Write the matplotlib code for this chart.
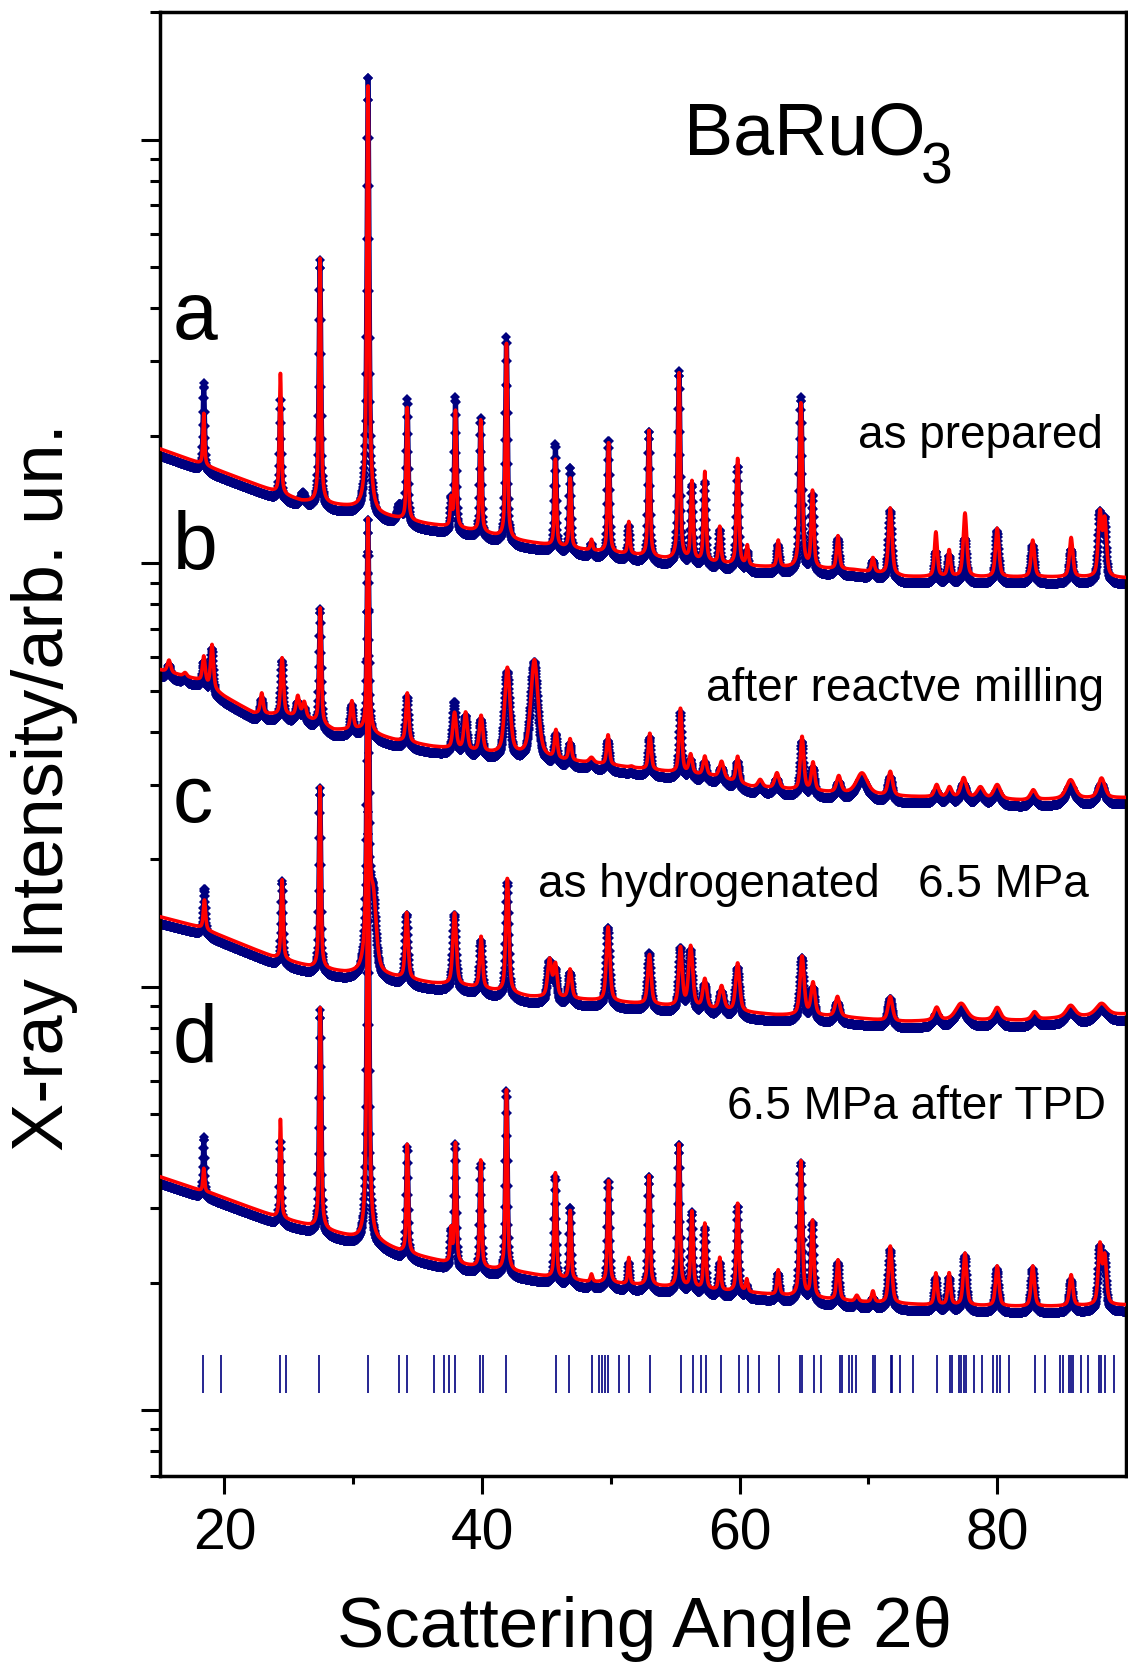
import numpy as np
import matplotlib
matplotlib.use("Agg")
import matplotlib.pyplot as plt
from matplotlib.ticker import FixedLocator, LogLocator, NullFormatter

plt.rcParams['font.family'] = ['Liberation Sans', 'DejaVu Sans']

# ---- data (log10 of intensity, arb. units) ----
nan = np.nan

# a: as prepared
a_bg_x = [15, 18, 24, 26, 30.5, 32, 35.7, 39.6, 42.4, 44.7, 48.6, 51.7, 54.2, 61.2, 68.9, 72.8, 77.9, 85.6, 90]
a_bg = [4.27, 4.237, 4.168, 4.147, 4.13, 4.114, 4.093, 4.076, 4.055, 4.045, 4.029, 4.02, 4.01, 3.992, 3.984, 3.968, 3.967, 3.967, 3.965]
a_pos = [18.4, 20.2, 24.35, 26.1, 27.42, 31.15, 33.6, 34.2, 37.6, 37.94, 39.9, 41.9, 45.7, 46.85, 48.5, 49.83, 51.4,
         52.97, 55.3, 56.3, 57.3, 58.46, 59.85, 60.6, 63.0, 64.76, 65.66, 67.64, 70.35, 71.7, 75.24, 76.27, 77.5,
         80.0, 82.76, 85.74, 87.98, 88.35]
a_calc = [4.354, nan, 4.451, nan, 4.72, 5.134, nan, 4.367, 4.15, 4.36, 4.338, 4.519, 4.245, 4.202, 4.055, 4.286, 4.097,
          4.315, 4.449, 4.192, 4.215, 4.085, 4.248, 4.04, 4.053, 4.378, 4.169, 4.064, 4.012, 4.13, 4.073, 4.03, 4.118,
          4.082, 4.054, 4.06, 4.118, 4.10]
a_obs = [4.435, 4.21, 4.397, 4.18, 4.72, 5.155, 4.15, 4.393, 4.16, 4.40, 4.35, 4.54, 4.291, 4.237, 4.06, 4.30, 4.10,
         4.32, 4.46, 4.192, 4.20, 4.09, 4.238, 4.04, 4.055, 4.397, 4.169, 4.07, 4.02, 4.135, 4.04, 4.03, 4.07,
         4.088, 4.054, 4.045, 4.125, 4.11]
a_fwhm = [0.15, 0.4, 0.15, 0.4, 0.15, 0.14, 0.4, 0.16, 0.16, 0.16, 0.16, 0.16, 0.17, 0.17, 0.2, 0.18, 0.18,
          0.18, 0.18, 0.2, 0.2, 0.2, 0.2, 0.2, 0.22, 0.22, 0.22, 0.25, 0.25, 0.3, 0.25, 0.25, 0.3,
          0.3, 0.3, 0.3, 0.3, 0.3]

# b: after reactive milling
b_bg_x = [15, 18, 20, 22.3, 26.1, 28.5, 30.4, 33.25, 36.1, 40.4, 45.6, 48.5, 53.3, 58, 60.9, 67.6, 72.3, 77.1, 81.9, 90]
b_bg = [3.748, 3.724, 3.685, 3.646, 3.637, 3.606, 3.606, 3.582, 3.567, 3.551, 3.535, 3.528, 3.511, 3.496, 3.472,
        3.457, 3.449, 3.446, 3.44, 3.446]
b_pos = [15.7, 16.95, 18.4, 19.04, 22.9, 24.48, 25.7, 26.2, 27.44, 29.9, 31.15, 34.2, 37.87, 38.73, 39.93, 41.97,
         44.07, 45.74, 46.84, 48.5, 49.79, 51.6, 53.03, 55.41, 56.2, 57.3, 58.6, 59.85, 61.6, 62.9, 64.85, 65.7,
         67.7, 69.5, 71.7, 75.3, 76.3, 77.4, 78.7, 80.0, 82.8, 85.7, 88.1]
b_calc = [3.771, 3.741, 3.779, 3.807, 3.693, 3.776, 3.685, 3.67, 3.894, 3.673, 4.11, 3.693, 3.646, 3.646, 3.638,
          3.752, 3.771, 3.602, 3.583, 3.54, 3.594, 3.52, 3.598, 3.657, 3.547, 3.543, 3.531, 3.543, 3.488, 3.504,
          3.59, 3.528, 3.496, 3.504, 3.507, 3.476, 3.47, 3.492, 3.47, 3.476, 3.464, 3.488, 3.492]
b_obs = [3.775, 3.745, 3.78, 3.81, 3.693, 3.78, 3.685, 3.67, 3.90, 3.676, 4.11, 3.695, 3.684, 3.65, 3.64,
         3.752, 3.775, 3.605, 3.585, 3.54, 3.594, 3.52, 3.60, 3.657, 3.547, 3.543, 3.531, 3.543, 3.488, 3.504,
         3.59, 3.528, 3.496, 3.504, 3.507, 3.476, 3.47, 3.492, 3.47, 3.476, 3.464, 3.488, 3.492]
b_fwhm = [0.3, 0.3, 0.25, 0.25, 0.25, 0.25, 0.3, 0.3, 0.18, 0.25, 0.16, 0.25, 0.3, 0.3, 0.3, 0.45,
          0.6, 0.25, 0.25, 0.4, 0.25, 0.3, 0.25, 0.25, 0.3, 0.3, 0.4, 0.3, 0.4, 0.4, 0.3, 0.3,
          0.4, 1.0, 0.4, 0.4, 0.4, 0.5, 0.6, 0.6, 0.5, 0.8, 0.6]

# c: as hydrogenated 6.5 MPa
c_bg_x = [15, 18, 19.9, 23.7, 26.6, 29.4, 32.8, 36.1, 39.0, 43.7, 48.5, 53.3, 62.8, 67.6, 72.3, 77.1, 81.9, 90]
c_bg = [3.165, 3.141, 3.118, 3.071, 3.047, 3.032, 3.023, 3.008, 3.0, 2.976, 2.968, 2.957, 2.933, 2.929, 2.917,
        2.92, 2.92, 2.935]
c_pos = [18.45, 24.48, 27.42, 31.15, 31.55, 34.15, 37.87, 39.93, 41.97, 45.25, 45.7, 46.84, 49.79, 53.0, 55.41,
         56.2, 57.3, 58.6, 59.85, 64.85, 65.7, 67.6, 71.7, 75.3, 77.2, 80.0, 82.9, 85.7, 88.1]
c_calc = [3.205, 3.252, 3.472, 4.02, 3.20, 3.174, 3.174, 3.118, 3.256, 3.063, 3.05, 3.04, 3.141, 3.075, 3.091,
          3.094, 3.016, 3.0, 3.055, 3.071, 3.008, 2.976, 2.976, 2.95, 2.96, 2.95, 2.94, 2.955, 2.96]
c_obs = [3.245, 3.26, 3.475, 4.03, 3.21, 3.18, 3.18, 3.12, 3.255, 3.07, 3.05, 3.045, 3.15, 3.09, 3.10,
         3.094, 3.016, 3.0, 3.055, 3.078, 3.008, 2.976, 2.985, 2.95, 2.96, 2.95, 2.94, 2.955, 2.96]
c_fwhm = [0.2, 0.18, 0.15, 0.14, 0.5, 0.25, 0.3, 0.25, 0.25, 0.35, 0.3, 0.3, 0.3, 0.3, 0.3,
          0.35, 0.35, 0.4, 0.35, 0.35, 0.35, 0.4, 0.4, 0.5, 1.0, 0.6, 0.5, 0.8, 1.0]

# d: 6.5 MPa after TPD
d_bg_x = [15, 18, 19, 23.9, 25.9, 30.6, 32.1, 33.7, 37.0, 39.6, 43.45, 45.0, 48.1, 52.2, 54.2, 61.2, 68.9, 74.5, 82.7, 90]
d_bg = [2.551, 2.52, 2.512, 2.457, 2.441, 2.402, 2.394, 2.374, 2.35, 2.338, 2.323, 2.315, 2.303, 2.295, 2.291,
        2.276, 2.256, 2.248, 2.244, 2.248]
d_pos = [18.4, 24.35, 27.44, 31.15, 34.2, 37.6, 37.94, 39.9, 41.9, 45.7, 46.85, 48.5, 49.83, 51.4, 52.97, 55.29,
         56.3, 57.3, 58.46, 59.85, 60.56, 63.0, 64.76, 65.66, 67.64, 69.1, 70.35, 71.7, 75.24, 76.27, 77.5, 80.0,
         82.76, 85.74, 87.98, 88.35]
d_calc = [2.571, 2.689, 2.95, 3.4, 2.627, 2.425, 2.63, 2.59, 2.756, 2.56, 2.472, 2.32, 2.543, 2.359, 2.555, 2.63,
          2.468, 2.44, 2.359, 2.489, 2.307, 2.33, 2.588, 2.446, 2.354, 2.27, 2.28, 2.387, 2.323, 2.323, 2.37, 2.34,
          2.34, 2.319, 2.389, 2.36]
d_obs = [2.657, 2.646, 2.95, 3.42, 2.63, 2.43, 2.635, 2.59, 2.76, 2.56, 2.49, 2.32, 2.55, 2.36, 2.56, 2.635,
         2.475, 2.44, 2.36, 2.49, 2.307, 2.335, 2.59, 2.45, 2.36, 2.27, 2.28, 2.39, 2.325, 2.325, 2.375, 2.345,
         2.345, 2.32, 2.39, 2.37]
d_fwhm = [0.15, 0.15, 0.15, 0.14, 0.16, 0.16, 0.16, 0.16, 0.16, 0.17, 0.17, 0.2, 0.18, 0.18, 0.18, 0.18,
          0.2, 0.2, 0.2, 0.2, 0.2, 0.22, 0.22, 0.22, 0.25, 0.3, 0.25, 0.3, 0.25, 0.25, 0.3, 0.3,
          0.3, 0.3, 0.3, 0.3]

# Bragg reflection positions of BaRuO3
refl = [18.36, 19.72, 24.32, 24.76, 27.36, 31.12, 33.57, 34.18, 36.29, 37.04, 37.45, 37.89, 39.85, 40.1, 41.85,
        45.71, 46.77, 48.52, 49.06, 49.3, 49.55, 49.8, 50.65, 51.4, 53.05, 55.43, 56.42, 56.99, 57.4, 58.55,
        59.95, 60.65, 61.53, 63.06, 64.68, 64.86, 65.77, 66.31, 67.77, 67.97, 68.49, 68.7, 69.06, 70.36, 70.52,
        71.74, 71.87, 72.44, 73.48, 75.32, 76.31, 76.52, 77.0, 77.2, 77.4, 77.6, 78.18, 78.83, 79.71, 79.95,
        80.18, 80.88, 82.91, 83.69, 84.88, 85.12, 85.56, 85.71, 85.9, 86.47, 87.06, 87.92, 88.05, 88.36, 89.06]

labels = ['a', 'b', 'c', 'd']
names = ['as prepared', 'after reactve milling', 'as hydrogenated   6.5 MPa', '6.5 MPa after TPD']


def profile(x, bg_x, bg_log, pos, top_log, fwhm, bg_scale=1.0, eta=0.55):
    bg = 10 ** np.interp(x, bg_x, bg_log)
    y = bg * bg_scale
    for p, t, w in zip(pos, top_log, fwhm):
        if np.isnan(t):
            continue
        amp = 10 ** t - 10 ** np.interp(p, bg_x, bg_log)
        if amp <= 0:
            continue
        d = ((x - p) / w) ** 2
        y = y + amp * (eta / (1 + 4 * d) + (1 - eta) * np.exp(-4 * np.log(2) * d))
    return y


x = np.arange(15.0, 90.001, 0.02)
curves = [
    (a_bg_x, a_bg, a_pos, a_calc, a_obs, a_fwhm),
    (b_bg_x, b_bg, b_pos, b_calc, b_obs, b_fwhm),
    (c_bg_x, c_bg, c_pos, c_calc, c_obs, c_fwhm),
    (d_bg_x, d_bg, d_pos, d_calc, d_obs, d_fwhm),
]

fig = plt.figure(figsize=(11.28, 16.68), dpi=100)
ax = fig.add_axes([160 / 1128, 1 - 1475.7 / 1668, 966 / 1128, 1464.2 / 1668])

navy = '#00007f'
for bgx, bgl, pos, calc, obs, fw in curves:
    yo = profile(x, bgx, bgl, pos, np.array(obs, float), fw, bg_scale=0.962)
    ax.plot(x, yo, color=navy, lw=3.5, zorder=2)
    ax.plot(x, yo, ls='none', color=navy, marker='D', ms=5, mew=0, zorder=2)
for bgx, bgl, pos, calc, obs, fw in curves:
    yc = profile(x, bgx, bgl, pos, np.array(calc, float), fw)
    ax.plot(x, yc, color='red', lw=2.6, zorder=3)

ax.vlines(refl, 10 ** 2.04, 10 ** 2.13, color=navy, lw=1.2, zorder=2)

ax.set_yscale('log')
ax.set_xlim(15, 90)
ax.set_ylim(10 ** 1.845, 10 ** 5.303)

ax.xaxis.set_major_locator(FixedLocator([20, 40, 60, 80]))
ax.xaxis.set_minor_locator(FixedLocator([30, 50, 70]))
ax.yaxis.set_major_locator(LogLocator(base=10, numticks=10))
ax.yaxis.set_minor_locator(LogLocator(base=10, subs=np.arange(2, 10), numticks=20))
ax.yaxis.set_major_formatter(NullFormatter())
ax.yaxis.set_minor_formatter(NullFormatter())

ax.tick_params(axis='x', which='major', direction='out', length=13, width=2.2, labelsize=41, pad=10)
ax.tick_params(axis='x', which='minor', direction='out', length=6, width=2.2)
ax.tick_params(axis='y', which='major', direction='out', length=14, width=2.2)
ax.tick_params(axis='y', which='minor', direction='out', length=7, width=2.2)
for s in ax.spines.values():
    s.set_linewidth(2.5)

# texts
ax.text(0.5424, 0.902, 'BaRuO', transform=ax.transAxes, fontsize=53, ha='left', va='baseline')
ax.text(0.7875, 0.8822, '3', transform=ax.transAxes, fontsize=41, ha='left', va='baseline')
lab_y = [0.7763, 0.6193, 0.4465, 0.2826]
for lab, yy in zip(labels, lab_y):
    ax.text(0.0135, yy, lab, transform=ax.transAxes, fontsize=58, ha='left', va='baseline')
name_pos = [(0.9759, 0.7019), (0.9776, 0.5288), (0.9617, 0.3954), (0.9793, 0.2434)]
for nm, (xx, yy) in zip(names, name_pos):
    ax.text(xx, yy, nm, transform=ax.transAxes, fontsize=33, ha='right', va='baseline')

fig.text(644 / 1128, 1 - 1647 / 1668, 'Scattering Angle 2\u03b8', fontsize=51, ha='center', va='baseline')
fig.text(45 / 1128, 1 - 787 / 1668, 'X-ray Intensity/arb. un.', fontsize=52, rotation=90,
         ha='center', va='center')

fig.savefig('out.png', dpi=100)
